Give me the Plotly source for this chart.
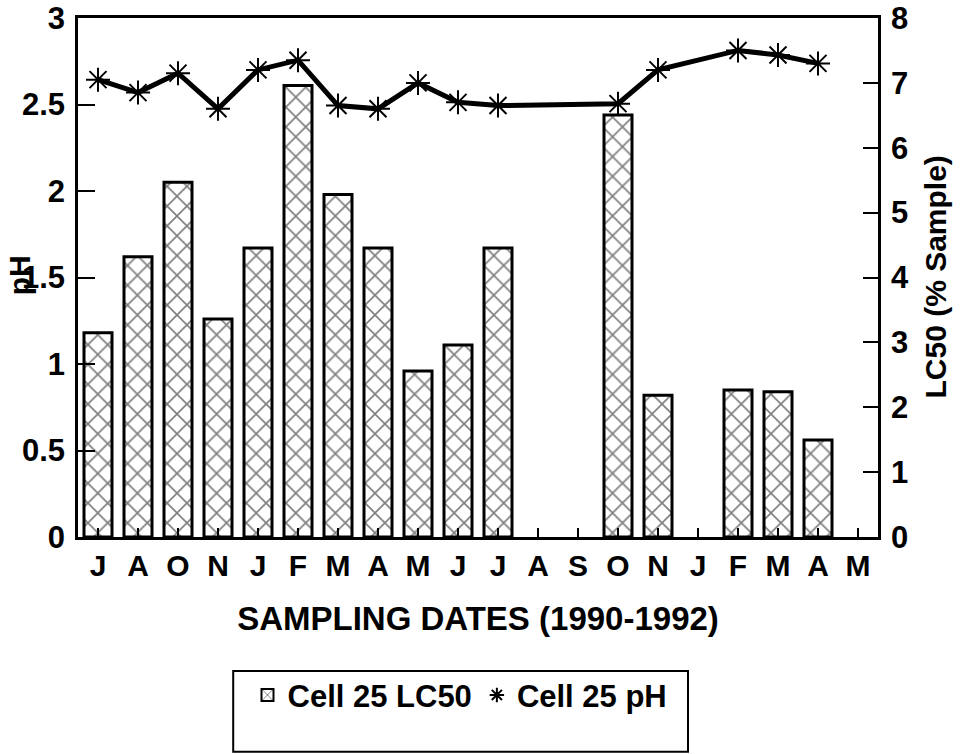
import plotly.graph_objects as go

months = ["J", "A", "O", "N", "J", "F", "M", "A", "M", "J",
          "J", "A", "S", "O", "N", "J", "F", "M", "A", "M"]
idx = list(range(len(months)))

lc50 = [1.18, 1.62, 2.05, 1.26, 1.67, 2.61, 1.98, 1.67, 0.96, 1.11,
        1.67, None, None, 2.44, 0.82, None, 0.85, 0.84, 0.56, None]
ph = [7.05, 6.85, 7.15, 6.6, 7.2, 7.35, 6.65, 6.6, 7.0, 6.7,
      6.65, None, None, 6.68, 7.2, None, 7.5, 7.43, 7.3, None]

left_ticks = [0, 0.5, 1, 1.5, 2, 2.5, 3]
left_labels = ["0", "0.5", "1", "1.5", "2", "2.5", "3"]
right_ticks = [0, 1, 2, 3, 4, 5, 6, 7, 8]

FONT = "Liberation Sans, Arial, Helvetica, sans-serif"

fig = go.Figure()
fig.add_trace(go.Bar(
    x=idx, y=lc50, name="Cell 25 LC50", width=0.7,
    marker=dict(color="white", line=dict(color="black", width=3),
                pattern=dict(shape="x", size=14, solidity=0.22,
                             fgcolor="black", bgcolor="white")),
    yaxis="y",
))
fig.add_trace(go.Scatter(
    x=idx, y=ph, mode="lines+markers", connectgaps=True, showlegend=False,
    line=dict(color="black", width=5),
    marker=dict(symbol="asterisk-open", size=20, color="black",
                line=dict(color="black", width=2)),
    yaxis="y2",
))
fig.add_trace(go.Scatter(
    x=[None], y=[None], mode="markers", name="Cell 25 pH",
    marker=dict(symbol="asterisk-open", size=22, color="black",
                line=dict(color="black", width=2)),
    yaxis="y2",
))

fig.update_layout(
    width=960, height=754,
    margin=dict(l=78, r=82, t=18, b=217, autoexpand=False),
    plot_bgcolor="white", paper_bgcolor="white",
    font=dict(family=FONT, size=30, color="black", weight=700),
    bargap=0.3,
    xaxis=dict(
        range=[-0.5, 19.5], tickmode="array", tickvals=idx, ticktext=months,
        ticks="inside", ticklen=9, tickwidth=1.5, tickcolor="black",
        showline=True, linewidth=3, linecolor="black", mirror=True,
        showgrid=False, zeroline=False, automargin=False,
        tickfont=dict(size=30, family=FONT, weight=700),
        title=dict(text="SAMPLING DATES (1990-1992)",
                   font=dict(size=33, family=FONT, weight=700), standoff=26),
    ),
    yaxis=dict(
        range=[0, 3], tickmode="array", tickvals=left_ticks, ticktext=left_labels,
        ticks="inside", ticklen=17, tickwidth=2, tickcolor="black",
        showline=True, linewidth=2.5, linecolor="black", automargin=False,
        showgrid=False, zeroline=False, ticklabelstandoff=4,
        tickfont=dict(size=31, family=FONT, weight=700),
    ),
    yaxis2=dict(
        range=[0, 8], tickmode="array", tickvals=right_ticks,
        overlaying="y", side="right", automargin=False,
        ticks="inside", ticklen=15, tickwidth=2, tickcolor="black",
        showline=True, linewidth=2.5, linecolor="black",
        showgrid=False, zeroline=False, ticklabelstandoff=4,
        tickfont=dict(size=31, family=FONT, weight=700),
    ),
    legend=dict(
        orientation="h", x=0.4775, xanchor="center", y=-0.305, yanchor="middle",
        bgcolor="rgba(0,0,0,0)", borderwidth=0,
        font=dict(size=31, family=FONT, weight=700),
        itemsizing="constant", traceorder="normal",
    ),
    shapes=[dict(type="rect", xref="paper", yref="paper",
                 x0=0.194, x1=0.7625, y0=-0.414, y1=-0.258,
                 line=dict(color="black", width=2), fillcolor="rgba(0,0,0,0)")],
    annotations=[
        dict(text="pH", xref="paper", yref="paper", x=-0.072, y=0.505,
             xanchor="center", yanchor="middle", textangle=-90, showarrow=False,
             font=dict(size=30, family=FONT, weight=700)),
        dict(text="LC50 (% Sample)", xref="paper", yref="paper", x=1.0713, y=0.5,
             xanchor="center", yanchor="middle", textangle=-90, showarrow=False,
             font=dict(size=30, family=FONT, weight=700)),
    ],
)

fig.write_html("out.html", config={"displayModeBar": False},
               post_script="document.body.style.margin='0';document.body.style.overflow='hidden';")
